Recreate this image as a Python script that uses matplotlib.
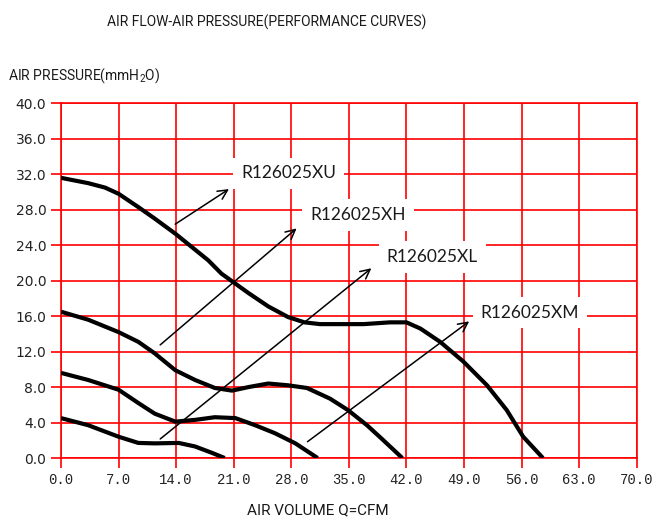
import matplotlib.pyplot as plt

plt.rcParams['mathtext.fontset'] = 'custom'
plt.rcParams['mathtext.rm'] = 'Roboto'
plt.rcParams['mathtext.it'] = 'Roboto'

# curve data (CFM, mmH2O)
xu_x = [0, 3.3, 5.35, 7.0, 9.4, 11.4, 13.9, 16.3, 17.9, 19.5, 21.0, 22.8, 25.2, 27.6,
        29.6, 31.5, 34.0, 36.8, 40.0, 42.0, 43.7, 46.1, 48.9, 51.8, 54.2, 56.2, 58.6]
xu_y = [31.6, 31.0, 30.5, 29.8, 28.3, 27.0, 25.3, 23.5, 22.3, 20.8, 19.8, 18.6, 17.1, 15.9,
        15.3, 15.1, 15.1, 15.1, 15.3, 15.3, 14.6, 13.1, 10.9, 8.2, 5.4, 2.4, 0.0]

xh_x = [0, 3.3, 7.0, 9.4, 11.4, 13.9, 16.3, 18.7, 20.8, 22.8, 25.2, 27.6,
        29.9, 32.7, 34.9, 37.2, 39.2, 41.5]
xh_y = [16.5, 15.6, 14.2, 13.1, 11.8, 9.9, 8.8, 7.9, 7.6, 8.0, 8.4, 8.2,
        7.9, 6.7, 5.4, 3.7, 2.0, 0.0]

xl_x = [0, 3.3, 7.0, 9.4, 11.4, 13.9, 16.3, 18.7, 21.2, 23.6, 26.0, 28.5, 31.2]
xl_y = [9.6, 8.8, 7.7, 6.2, 5.0, 4.1, 4.3, 4.6, 4.5, 3.7, 2.8, 1.65, 0.0]

xm_x = [0, 3.3, 7.0, 9.4, 11.4, 14.3, 16.3, 18.3, 19.9]
xm_y = [4.5, 3.7, 2.4, 1.7, 1.65, 1.7, 1.3, 0.6, 0.0]

names = ['R126025XU', 'R126025XH', 'R126025XL', 'R126025XM']
arrow_start = [(13.6, 26.2), (11.8, 12.55), (11.8, 1.95), (29.7, 1.65)]
arrow_end = [(20.7, 30.5), (28.9, 26.1), (38.0, 21.6), (49.9, 15.6)]
label_pos = [(21.9, 32.1), (30.3, 27.4), (39.6, 22.7), (51.0, 16.4)]

xticks = [0, 7, 14, 21, 28, 35, 42, 49, 56, 63, 70]
yticks = [0, 4, 8, 12, 16, 20, 24, 28, 32, 36, 40]

fig = plt.figure(figsize=(6.54, 5.22), dpi=100)
ax = fig.add_axes([0.0933, 0.1226, 0.8802, 0.6794])

for x, y in [(xu_x, xu_y), (xh_x, xh_y), (xl_x, xl_y), (xm_x, xm_y)]:
    ax.plot(x, y, color='black', lw=3, solid_joinstyle='round', solid_capstyle='butt', zorder=4)

for name, s, e, p in zip(names, arrow_start, arrow_end, label_pos):
    ax.annotate('', xy=e, xytext=s,
                arrowprops=dict(arrowstyle='->', color='black', lw=1.1,
                                mutation_scale=17), zorder=5)
    ax.text(p[0], p[1], name, fontsize=12.5, family='Lato', color='#1a1a1a',
            ha='left', va='center', zorder=3,
            bbox=dict(boxstyle='square,pad=0.45', fc='white', ec='none'))

ax.set_xlim(0, 70)
ax.set_ylim(0, 40)
ax.set_xticks(xticks)
ax.set_yticks(yticks)
ax.set_xticklabels(['%.1f' % v for v in xticks], family='Liberation Mono', fontsize=10)
ax.set_yticklabels(['%.1f' % v for v in yticks], family='DejaVu Sans', fontsize=10)
ax.tick_params(axis='both', color='red', length=7, width=1.2, labelcolor='#222222')
ax.grid(color='red', lw=1.2, zorder=1)
ax.set_axisbelow(True)
for sp in ax.spines.values():
    sp.set_color('red')
    sp.set_linewidth(1.2)

fig.text(0.408, 0.958, 'AIR FLOW-AIR PRESSURE(PERFORMANCE CURVES)', family='Roboto',
         fontsize=10, ha='center', va='center', color='#1a1a1a')
fig.text(0.012, 0.855, 'AIR PRESSURE(mmH$_2$O)', family='Roboto',
         fontsize=10, ha='left', va='center', color='#1a1a1a')
fig.text(0.486, 0.023, 'AIR VOLUME Q=CFM', family='Roboto',
         fontsize=11, ha='center', va='center', color='#1a1a1a')

fig.savefig('out.png', dpi=100)
